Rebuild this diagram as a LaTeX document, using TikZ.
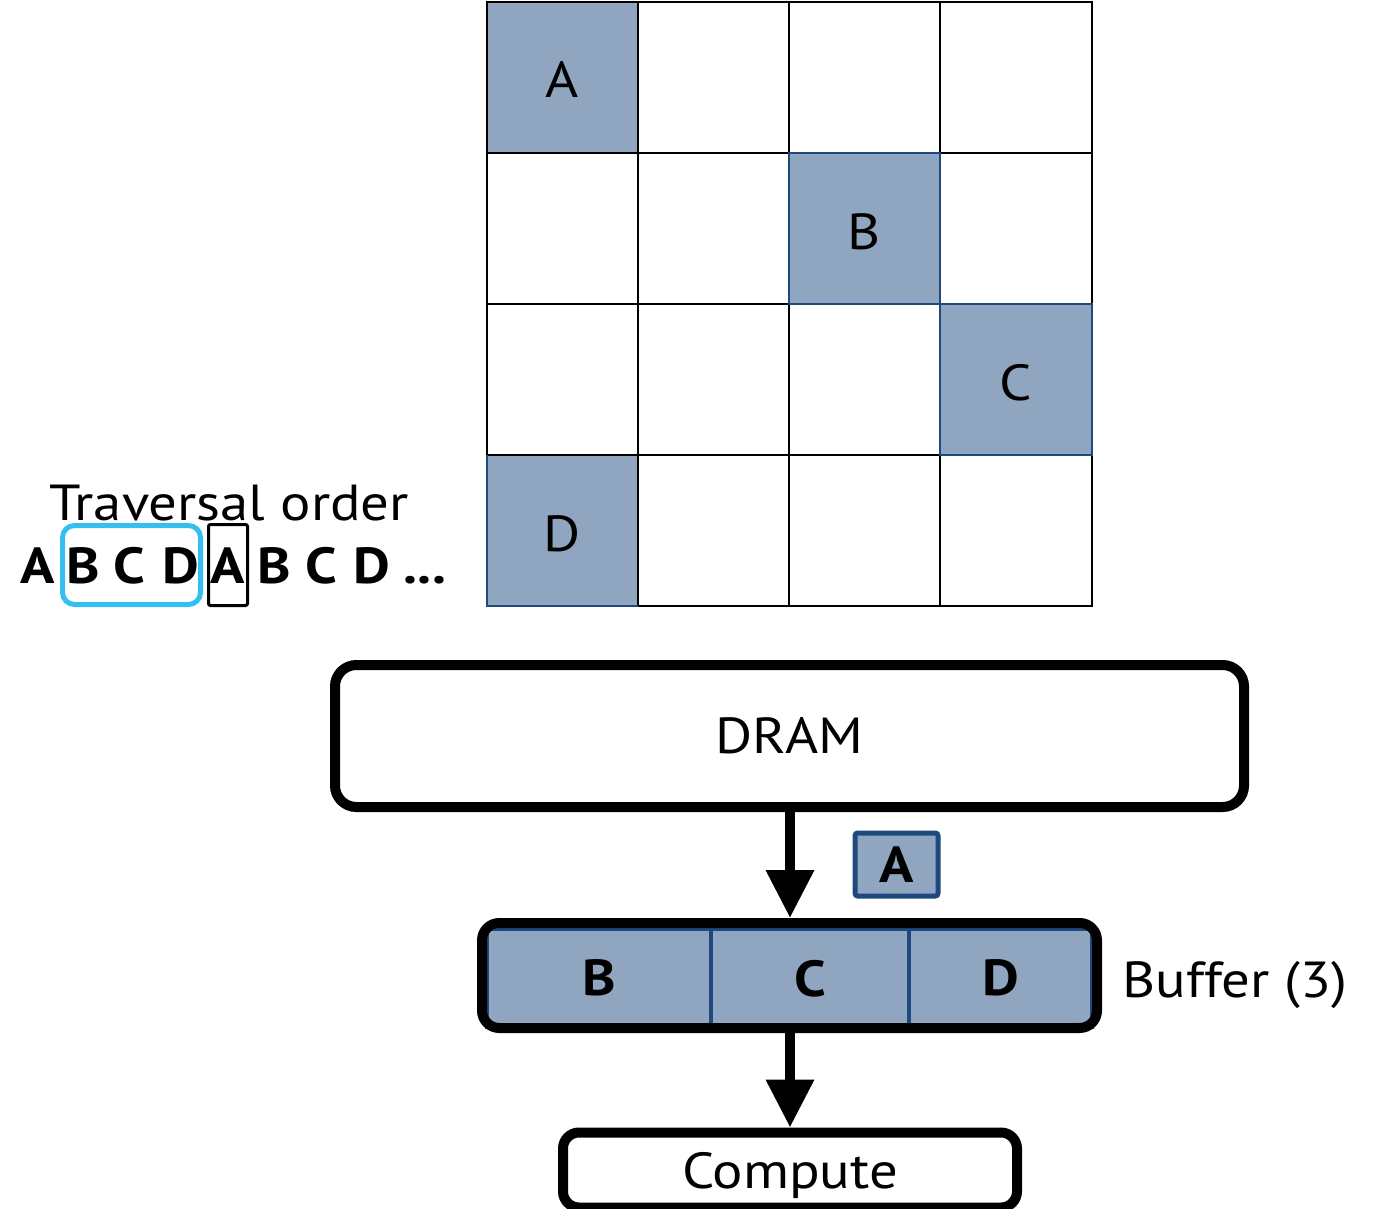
\documentclass[tikz,border=0pt]{standalone}
\usepackage{fontspec}
\setmainfont{PT Sans}[FakeStretch=1.12]
\usetikzlibrary{arrows.meta}
\definecolor{tilefill}{RGB}{143,165,192}
\definecolor{tileedge}{RGB}{31,73,125}
\definecolor{seqblue}{RGB}{53,190,240}
\begin{document}
\begin{tikzpicture}[x=0.75pt,y=-0.75pt,
  txt/.style={font=\fontsize{38}{40}\selectfont, inner sep=0pt},
  btxt/.style={font=\fontsize{38}{40}\selectfont\bfseries, inner sep=0pt},
  bigbox/.style={draw=black, line width=7.5pt, fill=white, rounded corners=16pt, inner sep=0pt,
    font=\fontsize{38}{40}\selectfont},
  cellbox/.style={draw=tileedge, line width=3pt, fill=tilefill, inner sep=0pt,
    minimum height=73.5pt, font=\fontsize{38}{40}\selectfont\bfseries},
  flow/.style={line width=7.5pt, -{Triangle[width=34.5pt,length=36pt]}}
]
\useasboundingbox (0,0) rectangle (1375,1209);
% grid
\fill[tilefill] (487,2) rectangle (638,153);
\fill[tilefill] (789,153) rectangle (940,304);
\fill[tilefill] (940,304) rectangle (1092,455);
\fill[tilefill] (487,455) rectangle (638,606);
\draw[line width=1.5pt] (487,2) rectangle (1092,606);
\foreach \x in {638,789,940} \draw[line width=1.5pt] (\x,2) -- (\x,606);
\foreach \y in {153,304,455} \draw[line width=1.5pt] (487,\y) -- (1092,\y);
\draw[tileedge, line width=1.5pt] (789,153) rectangle (940,304);
\draw[tileedge, line width=1.5pt] (940,304) rectangle (1092,455);
\draw[tileedge, line width=1.5pt] (487,455) -- (487,606) -- (638,606);
\node[txt, anchor=base] (gA) at (562.5,98) {A};
\node[txt, anchor=base] (gB) at (864.5,249) {B};
\node[txt, anchor=base] (gC) at (1016,400) {C};
\node[txt, anchor=base] (gD) at (562.5,551) {D};
% traversal order
\node[txt, anchor=base] (trav) at (229,520) {Traversal order};
\node[draw=seqblue, line width=3.75pt, rounded corners=9pt, minimum width=103.5pt, minimum height=59.25pt, inner sep=0pt] (blueframe) at (131.5,565) {};
\node[draw=black, line width=2.25pt, rounded corners=1.5pt, minimum width=29.25pt, minimum height=60.75pt, inner sep=0pt] (blackframe) at (228,565) {};
\node[btxt, anchor=base west] (s1) at (20,583) {A};
\node[btxt, anchor=base west] (s2) at (66,583) {B};
\node[btxt, anchor=base west] (s3) at (113,583) {C};
\node[btxt, anchor=base west] (s4) at (162,583) {D};
\node[btxt, anchor=base] (s5) at (228,583) {A};
\node[btxt, anchor=base west] (s6) at (257,583) {B};
\node[btxt, anchor=base west] (s7) at (305,583) {C};
\node[btxt, anchor=base west] (s8) at (353,583) {D};
\node[btxt, anchor=base west] (s9) at (403,583) {...};
% DRAM
\node[bigbox, minimum width=681.75pt, minimum height=106.5pt] (dram) at (789.5,736) {DRAM};
% buffer cells
\node[cellbox, minimum width=168pt, text depth=0pt] (cB) at (599,978) {B};
\node[cellbox, minimum width=148.5pt, text depth=0pt] (cC) at (810,978) {C};
\node[cellbox, minimum width=137.25pt, text depth=0pt] (cD) at (1000.5,978) {D};
\node[draw=black, line width=7.5pt, rounded corners=13pt, minimum width=461.25pt, minimum height=78.75pt, inner sep=0pt] (buffer) at (789.5,975.5) {};
\node[txt, anchor=base west] (buflabel) at (1122,997) {Buffer (3)};
% moving tile
\node[draw=tileedge, fill=tilefill, line width=3.75pt, rounded corners=2pt, minimum width=62.25pt, minimum height=47.25pt, inner sep=0pt, font=\fontsize{38}{40}\selectfont\bfseries] (moving) at (896.5,864.5) {A};
% compute
\node[bigbox, rounded corners=12pt, minimum width=340.5pt, minimum height=56.25pt, text depth=0pt] (compute) at (790,1170) {Compute};
% arrows
\draw[flow] (dram.south -| 790,0) -- (buffer.north -| 790,0);
\draw[flow] (buffer.south -| 790,0) -- (compute.north -| 790,0);
\end{tikzpicture}
\end{document}
